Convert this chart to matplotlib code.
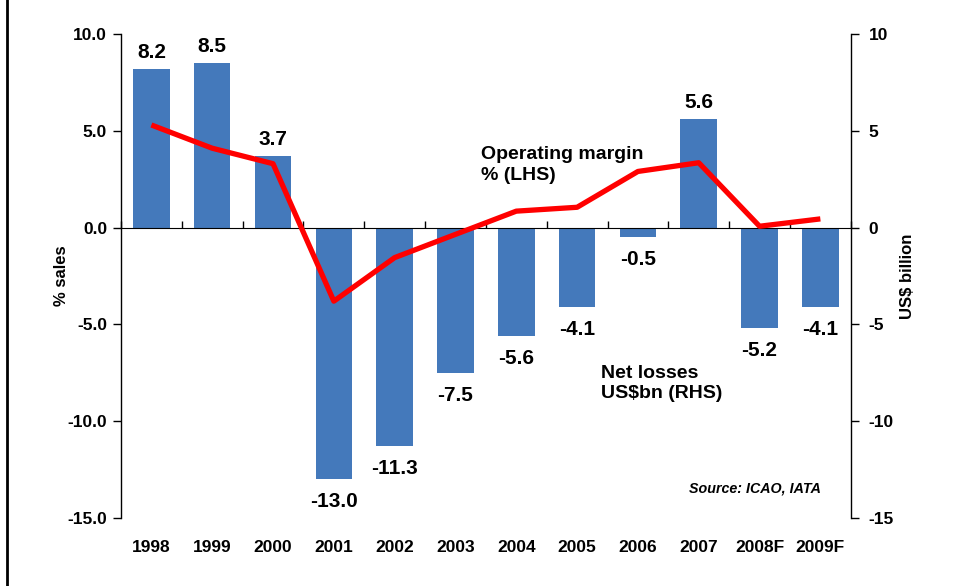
import matplotlib
matplotlib.use("Agg")
import matplotlib.pyplot as plt
from matplotlib.lines import Line2D
import numpy as np

plt.rcParams["font.family"] = ["Liberation Sans", "DejaVu Sans"]
plt.rcParams["font.weight"] = "bold"
plt.rcParams["axes.unicode_minus"] = False

# data
years = ["1998", "1999", "2000", "2001", "2002", "2003", "2004", "2005",
         "2006", "2007", "2008F", "2009F"]
net_losses = [8.2, 8.5, 3.7, -13.0, -11.3, -7.5, -5.6, -4.1, -0.5, 5.6, -5.2, -4.1]
op_margin = [5.3, 4.1, 3.3, -3.8, -1.55, -0.35, 0.85, 1.05, 2.9, 3.35, 0.07, 0.45]
left_ticks = [10, 5, 0, -5, -10, -15]

bar_color = "#4479BB"
x = np.arange(len(years))

fig = plt.figure(figsize=(9.54, 5.86), dpi=100)
ax = fig.add_axes([0.1268, 0.116, 0.765, 0.826])
ax2 = ax.twinx()

# bars belong to the RHS scale, line to the LHS scale
ax2.bar(x, net_losses, width=0.6, color=bar_color, zorder=2)
ax.plot(x, op_margin, color="#FF0000", lw=3.8, solid_capstyle="butt", zorder=3)
ax.set_zorder(ax2.get_zorder() + 1)
ax.patch.set_visible(False)

for a in (ax, ax2):
    a.set_ylim(-15, 10)
    a.set_xlim(-0.5, len(years) - 0.5)
    a.set_yticks(left_ticks)
    for s in ("top", "bottom"):
        a.spines[s].set_visible(False)
ax.spines["right"].set_visible(False)
ax2.spines["left"].set_visible(False)

ax.set_yticklabels(["%.1f" % v for v in left_ticks])
ax2.set_yticklabels(["%d" % v for v in left_ticks])
ax.tick_params(axis="y", direction="out", length=6, width=1, pad=4, labelsize=12.5)
ax2.tick_params(axis="y", direction="out", length=6, width=1, pad=7, labelsize=12.5)

ax.set_xticks(x)
ax.set_xticklabels(years)
ax.tick_params(axis="x", length=0, pad=16, labelsize=12.5)
ax2.tick_params(axis="x", length=0, labelbottom=False)

# zero line with category boundary ticks
zero = ax.secondary_xaxis(0.6)
zero.set_xticks(np.arange(-0.5, len(years), 1.0))
zero.set_xticklabels([])
zero.tick_params(axis="x", direction="out", length=5, width=1)
zero.spines["bottom"].set_linewidth(1)

for a in (ax, ax2):
    for s in a.spines.values():
        s.set_linewidth(1)

for xi, v in zip(x, net_losses):
    off = 12 if v > 0 else -16
    ax2.annotate("%.1f" % v, (xi, v), xytext=(0, off), textcoords="offset points",
                 ha="center", va="center", fontsize=15, fontweight="bold")

ax.text(0.493, 0.729, "Operating margin\n% (LHS)", transform=ax.transAxes,
        fontsize=14, fontweight="bold", ha="left", va="center", linespacing=1.3)
ax.text(0.658, 0.278, "Net losses\nUS$bn (RHS)", transform=ax.transAxes,
        fontsize=14, fontweight="bold", ha="left", va="center", linespacing=1.3)
ax.text(0.959, 0.062, "Source: ICAO, IATA", transform=ax.transAxes,
        fontsize=10.3, fontweight="bold", style="italic", ha="right", va="center")

ax.set_ylabel("% sales", fontsize=12, fontweight="bold")
ax.yaxis.set_label_coords(-0.071, 0.5)
ax2.set_ylabel("US$ billion", fontsize=12, fontweight="bold")
ax2.yaxis.set_label_coords(1.068, 0.5)

fig.add_artist(Line2D([0.0075, 0.0075], [0, 1], transform=fig.transFigure,
                      color="black", lw=2))

fig.savefig("out.png", dpi=100)
